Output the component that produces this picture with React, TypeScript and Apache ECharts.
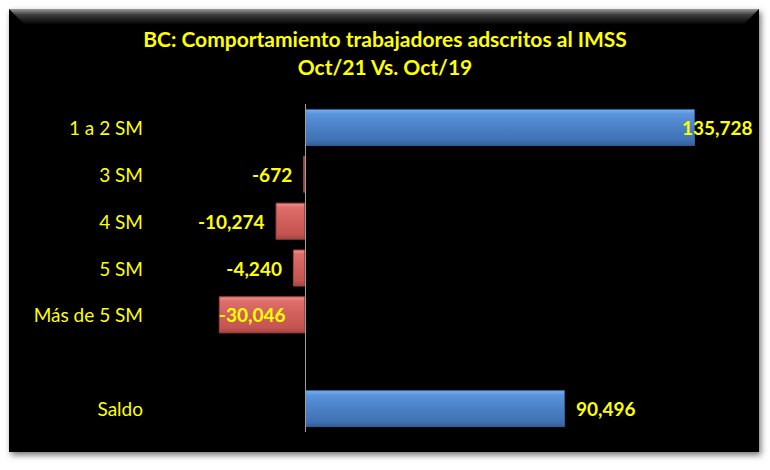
import React, { useEffect, useRef } from "react";
import * as echarts from "echarts";

const categories = ["1 a 2 SM", "3 SM", "4 SM", "5 SM", "Más de 5 SM", "", "Saldo"];
const values: (number | null)[] = [135728, -672, -10274, -4240, -30046, null, 90496];
const titleLines = ["BC: Comportamiento trabajadores adscritos al IMSS", "Oct/21 Vs. Oct/19"];

const FONT = "Lato";
const YELLOW = "#FFFF00";

export default function App() {
  const ref = useRef<HTMLDivElement>(null);
  useEffect(() => {
    const chart = echarts.init(ref.current!, null, { renderer: "svg" });
    const blue = new echarts.graphic.LinearGradient(0, 0, 0, 1, [
      { offset: 0, color: "#7ab2f2" },
      { offset: 0.12, color: "#5a94dc" },
      { offset: 0.5, color: "#4a80c6" },
      { offset: 0.85, color: "#3f72b4" },
      { offset: 1, color: "#345f98" },
    ]);
    const red = new echarts.graphic.LinearGradient(0, 0, 0, 1, [
      { offset: 0, color: "#f09490" },
      { offset: 0.12, color: "#de6e6a" },
      { offset: 0.5, color: "#d05f5b" },
      { offset: 0.85, color: "#c55551" },
      { offset: 1, color: "#a44441" },
    ]);
    const data = values.map((v) => {
      if (v === null) return null;
      let label: any = { position: v >= 0 ? "right" : "left", distance: 11 };
      if (v > 120000) label = { position: "right", distance: 0, offset: [-13, 0] };
      if (v < -20000) label = { position: "insideLeft", distance: 0 };
      return {
        value: v,
        itemStyle: {
          color: v >= 0 ? blue : red,
          borderColor: v >= 0 ? "#345f98" : "#a44441",
          borderWidth: 1,
        },
        label,
      };
    });
    chart.setOption({
      animation: false,
      backgroundColor: "#ffffff",
      graphic: [
        {
          type: "rect",
          shape: { x: 9, y: 9, width: 750, height: 443 },
          style: { fill: "#050505", shadowBlur: 6, shadowOffsetX: 2, shadowOffsetY: 3, shadowColor: "rgba(0,0,0,0.55)" },
          z: -10,
        },
        {
          type: "polygon",
          shape: { points: [[9, 9], [759, 9], [744, 24], [24, 24]] },
          style: {
            fill: new echarts.graphic.LinearGradient(0, 0, 0, 1, [
              { offset: 0, color: "#9a9a9a" },
              { offset: 0.4, color: "#3a3a3a" },
              { offset: 1, color: "#050505" },
            ]),
          },
          z: -9,
        },
        {
          type: "text",
          x: 385,
          y: 38,
          style: { text: titleLines[0], fill: YELLOW, font: `bold 21px ${FONT}`, align: "center", verticalAlign: "middle" },
        },
        {
          type: "text",
          x: 385,
          y: 66,
          style: { text: titleLines[1], fill: YELLOW, font: `bold 21px ${FONT}`, align: "center", verticalAlign: "middle" },
        },
      ],
      grid: { left: 150, right: 34, top: 104, bottom: 38, containLabel: false },
      xAxis: {
        type: "value",
        min: -54000,
        max: 150000,
        show: false,
      },
      yAxis: {
        type: "category",
        data: categories,
        inverse: true,
        axisLine: { show: false },
        axisTick: { show: false },
        splitLine: { show: false },
        axisLabel: { color: YELLOW, fontFamily: FONT, fontSize: 19, margin: 7 },
      },
      series: [
        {
          type: "bar",
          data,
          barWidth: 37,
          label: {
            show: true,
            color: YELLOW,
            fontFamily: FONT,
            fontWeight: "bold",
            fontSize: 19,
            formatter: (p: any) => Number(p.value).toLocaleString("en-US"),
          },
          markLine: {
            silent: true,
            symbol: "none",
            label: { show: false },
            lineStyle: { color: "#a0a0a0", type: "solid", width: 1 },
            data: [{ xAxis: 0 }],
          },
        },
      ],
    });
    return () => chart.dispose();
  }, []);
  return (
    <div style={{ position: "fixed", left: 0, top: 0, width: 770, height: 470 }}>
      <div ref={ref} style={{ width: 770, height: 470 }} />
    </div>
  );
}
